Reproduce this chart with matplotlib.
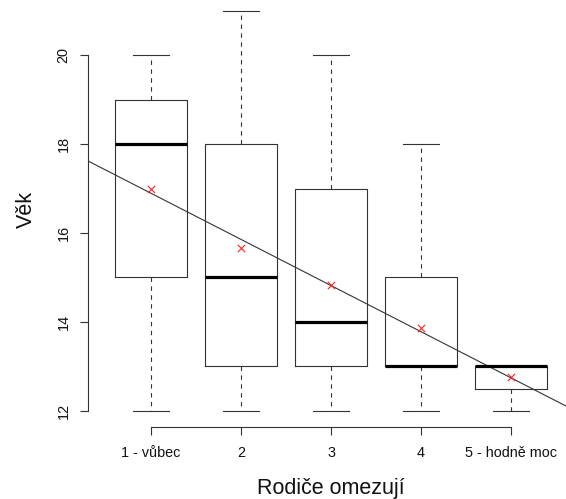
import matplotlib
matplotlib.use("Agg")
import matplotlib.pyplot as plt

plt.rcParams['font.family'] = ['Liberation Sans', 'DejaVu Sans']

# Age by how much parents restrict (1 = not at all ... 5 = very much)
groups = ["1 - vůbec", "2", "3", "4", "5 - hodně moc"]
whisker_low = [12, 12, 12, 12, 12]
q1 = [15, 13, 13, 13, 12.5]
median = [18, 15, 14, 13, 13]
q3 = [19, 18, 17, 15, 13]
whisker_high = [20, 21, 20, 18, 13]
means = [17.0, 15.66, 14.84, 13.86, 12.76]

# fitted linear trend: age = intercept + slope * group
intercept = 17.93
slope = -1.037

y_ticks = [12, 14, 16, 18, 20]

W, H = 566, 499
fig = plt.figure(figsize=(W / 100, H / 100), dpi=100)

# plot region in pixels (runs slightly past the top and right edges)
left_px, right_px = 88, 580
top_px, bottom_px = -5.5, 427
ax = fig.add_axes([left_px / W, (H - bottom_px) / H,
                   (right_px - left_px) / W, (bottom_px - top_px) / H])

positions = list(range(1, len(groups) + 1))
stats = [dict(med=m, q1=a, q3=b, whislo=lo, whishi=hi, fliers=[])
         for m, a, b, lo, hi in zip(median, q1, q3, whisker_low, whisker_high)]

line_c = "#333333"
ax.bxp(stats, positions=positions, widths=0.8, capwidths=0.4,
       showfliers=False, patch_artist=False,
       boxprops=dict(color=line_c, linewidth=0.8),
       whiskerprops=dict(color=line_c, linewidth=0.8, linestyle=(0, (4, 4))),
       capprops=dict(color=line_c, linewidth=0.8),
       medianprops=dict(color="black", linewidth=2.3, solid_capstyle="butt"))

ax.scatter(positions, means, marker="x", color="#ff2020", s=28,
           linewidths=0.8, zorder=5)

ax.axline((0, intercept), slope=slope, color=line_c, linewidth=0.8)

ax.set_xlim(0.3, 0.3 + (right_px - left_px) / 90)
ax.set_ylim(11.64, 21.36)

for s in ("top", "right"):
    ax.spines[s].set_visible(False)
ax.spines["left"].set_bounds(12, 20)
ax.spines["bottom"].set_bounds(1, 5)
for s in ("left", "bottom"):
    ax.spines[s].set_color(line_c)
    ax.spines[s].set_linewidth(0.8)

ax.set_xticks(positions)
ax.set_xticklabels(groups)
ax.set_yticks(y_ticks)
ax.set_yticklabels([str(t) for t in y_ticks], rotation=90, va="center")
ax.tick_params(axis="both", length=6, width=0.8, color=line_c,
               labelsize=10.4, labelcolor="#111111")
ax.tick_params(axis="x", pad=7.5)
ax.tick_params(axis="y", pad=6.5)

fig.text(331 / W, (H - 494) / H, "Rodiče omezují", fontsize=15.5,
         ha="center", va="baseline", color="#111111")
fig.text(32 / W, (H - 210) / H, "Věk", fontsize=15.5, rotation=90,
         rotation_mode="anchor", ha="center", va="baseline", color="#111111")

fig.savefig("out.png", dpi=100)
